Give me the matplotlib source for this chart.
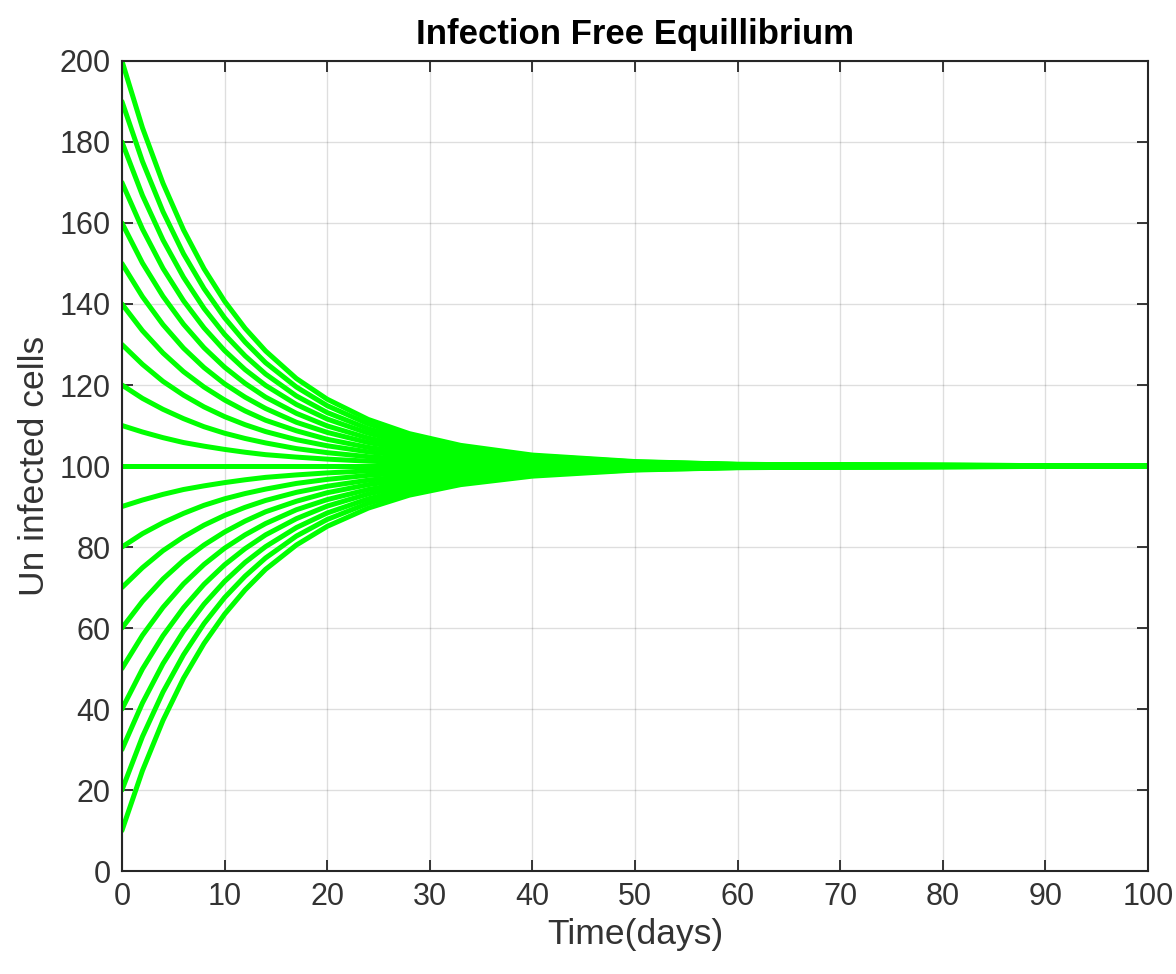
import matplotlib
matplotlib.use("Agg")
import matplotlib.pyplot as plt

t_days = [0, 2, 4, 6, 8, 10, 12, 14, 17, 20, 24, 28, 33, 40, 50, 60, 100]

# uninfected cells, one row per starting value (200 down to 10)
u200 = [200, 183.5, 169.8, 158.3, 148.7, 140.7, 134.0, 128.4, 121.6, 116.5, 111.5, 108.0, 105.1, 102.7, 101.1, 100.4, 100.0]
u190 = [190, 175.2, 162.8, 152.4, 143.8, 136.6, 130.6, 125.5, 119.5, 114.9, 110.4, 107.2, 104.6, 102.5, 101.0, 100.4, 100.0]
u180 = [180, 166.8, 155.8, 146.6, 138.9, 132.5, 127.2, 122.7, 117.3, 113.2, 109.2, 106.4, 104.1, 102.2, 100.9, 100.4, 100.0]
u170 = [170, 158.5, 148.8, 140.8, 134.1, 128.5, 123.8, 119.9, 115.2, 111.6, 108.1, 105.6, 103.6, 101.9, 100.8, 100.3, 100.0]
u160 = [160, 150.1, 141.9, 135.0, 129.2, 124.4, 120.4, 117.0, 113.0, 109.9, 106.9, 104.8, 103.1, 101.6, 100.7, 100.3, 100.0]
u150 = [150, 141.8, 134.9, 129.1, 124.3, 120.3, 117.0, 114.2, 110.8, 108.3, 105.8, 104.0, 102.6, 101.4, 100.6, 100.2, 100.0]
u140 = [140, 133.4, 127.9, 123.3, 119.5, 116.3, 113.6, 111.3, 108.7, 106.6, 104.6, 103.2, 102.1, 101.1, 100.4, 100.2, 100.0]
u130 = [130, 125.1, 120.9, 117.5, 114.6, 112.2, 110.2, 108.5, 106.5, 105.0, 103.5, 102.4, 101.5, 100.8, 100.3, 100.1, 100.0]
u120 = [120, 116.7, 114.0, 111.7, 109.7, 108.1, 106.8, 105.7, 104.3, 103.3, 102.3, 101.6, 101.0, 100.5, 100.2, 100.1, 100.0]
u110 = [110, 108.4, 107.0, 105.8, 104.9, 104.1, 103.4, 102.8, 102.2, 101.7, 101.2, 100.8, 100.5, 100.3, 100.1, 100.0, 100.0]
u100 = [100, 100, 100, 100, 100, 100, 100, 100, 100, 100, 100, 100, 100, 100, 100, 100, 100]
u90 = [90, 91.6, 93.0, 94.2, 95.1, 95.9, 96.6, 97.2, 97.8, 98.3, 98.8, 99.2, 99.5, 99.7, 99.9, 100.0, 100.0]
u80 = [80, 83.3, 86.0, 88.3, 90.3, 91.9, 93.2, 94.3, 95.7, 96.7, 97.7, 98.4, 99.0, 99.5, 99.8, 99.9, 100.0]
u70 = [70, 74.9, 79.1, 82.5, 85.4, 87.8, 89.8, 91.5, 93.5, 95.0, 96.5, 97.6, 98.5, 99.2, 99.7, 99.9, 100.0]
u60 = [60, 66.6, 72.1, 76.7, 80.5, 83.7, 86.4, 88.7, 91.3, 93.4, 95.4, 96.8, 97.9, 98.9, 99.6, 99.8, 100.0]
u50 = [50, 58.2, 65.1, 70.9, 75.7, 79.7, 83.0, 85.8, 89.2, 91.7, 94.2, 96.0, 97.4, 98.6, 99.4, 99.8, 100.0]
u40 = [40, 49.9, 58.1, 65.0, 70.8, 75.6, 79.6, 83.0, 87.0, 90.1, 93.1, 95.2, 96.9, 98.4, 99.3, 99.7, 100.0]
u30 = [30, 41.5, 51.2, 59.2, 65.9, 71.5, 76.2, 80.1, 84.8, 88.4, 91.9, 94.4, 96.4, 98.1, 99.2, 99.7, 100.0]
u20 = [20, 33.2, 44.2, 53.4, 61.1, 67.5, 72.8, 77.3, 82.7, 86.8, 90.8, 93.6, 95.9, 97.8, 99.1, 99.6, 100.0]
u10 = [10, 24.8, 37.2, 47.6, 56.2, 63.4, 69.4, 74.5, 80.5, 85.1, 89.6, 92.8, 95.4, 97.5, 99.0, 99.6, 100.0]

curves = [u200, u190, u180, u170, u160, u150, u140, u130, u120, u110,
          u100, u90, u80, u70, u60, u50, u40, u30, u20, u10]

x_ticks = [0, 10, 20, 30, 40, 50, 60, 70, 80, 90, 100]
y_ticks = [0, 20, 40, 60, 80, 100, 120, 140, 160, 180, 200]

plt.rcParams['font.family'] = ['Liberation Sans', 'DejaVu Sans']

fig = plt.figure(figsize=(11.76, 9.74), dpi=100)
ax = fig.add_axes([0.1037, 0.1057, 0.8725, 0.8317])

for u in curves:
    ax.plot(t_days, u, color='#00ff00', lw=3.6, solid_capstyle='round',
            solid_joinstyle='round')

ax.set_xlim(0, 100)
ax.set_ylim(0, 200)
ax.set_xticks(x_ticks)
ax.set_yticks(y_ticks)
ax.grid(True, color='#000000', alpha=0.13, lw=1)
ax.set_axisbelow(True)

gray = '#262626'
for s in ax.spines.values():
    s.set_color(gray)
    s.set_linewidth(1.5)
ax.tick_params(direction='in', length=8, width=1.3, colors=gray,
               labelsize=22, top=True, right=True, pad=8)
for lbl in ax.get_xticklabels() + ax.get_yticklabels():
    lbl.set_color('#333333')

ax.set_xlabel('Time(days)', fontsize=25.5, color='#333333', labelpad=4)
ax.set_ylabel('Un infected cells', fontsize=25.5, color='#333333', labelpad=6)
ax.set_title('Infection Free Equillibrium', fontsize=25, fontweight='bold', pad=12)

fig.savefig('out.png', dpi=100, facecolor='white')
